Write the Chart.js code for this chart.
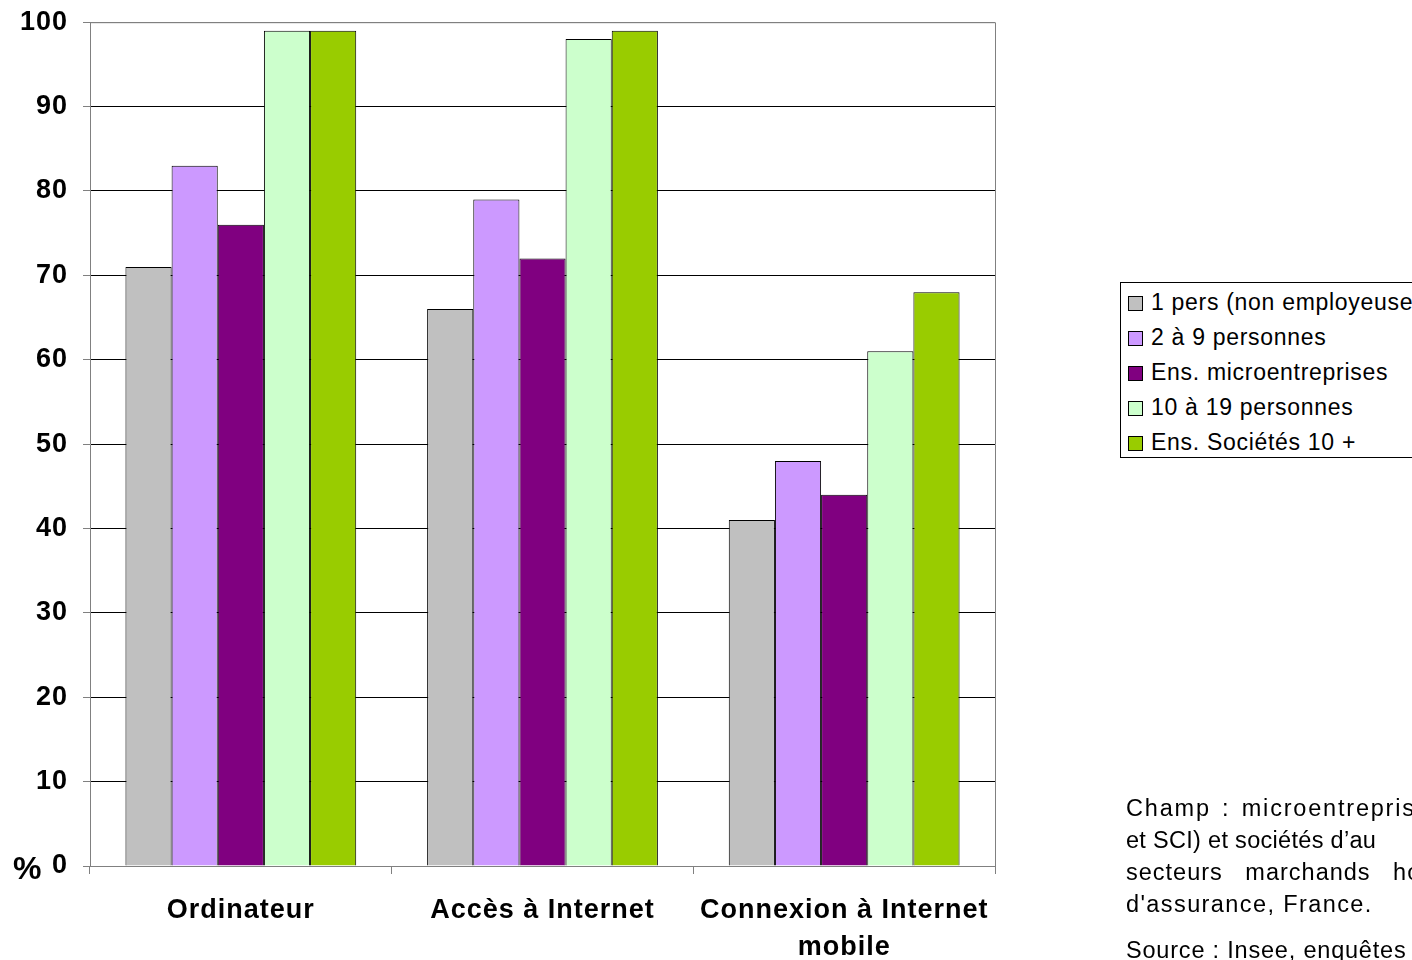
<!DOCTYPE html>
<html><head><meta charset="utf-8">
<script src="https://cdn.jsdelivr.net/npm/chart.js@4"></script>
<style>
html,body{margin:0;padding:0;background:#fff;overflow:hidden;width:1412px;height:960px;}
#wrap{position:absolute;left:0;top:-9px;width:1412px;height:969px;}
.lab{position:absolute;font-family:"Liberation Sans",Arial,sans-serif;color:#000;white-space:nowrap;}
#legend{position:absolute;left:1120px;top:282px;width:320px;height:174px;border:1px solid #000;background:#fff;font-family:"Liberation Sans",Arial,sans-serif;font-size:23px;letter-spacing:0.7px;}
#legend .it{position:absolute;left:7px;height:24px;line-height:24px;white-space:nowrap;}
#legend .sw{display:inline-block;width:13px;height:13px;border:1px solid #000;margin-right:8px;vertical-align:-1px;}
#notes{position:absolute;left:1126px;top:792px;font-family:"Liberation Sans",Arial,sans-serif;font-size:23.5px;line-height:32px;}
#notes div{white-space:nowrap;}
</style></head>
<body>
<div id="wrap"><canvas id="c"></canvas></div>
<div class="lab" style="left:13px;top:850px;font-size:32px;font-weight:bold;">%</div>
<div id="legend"></div>
<div id="notes"></div>
<script>
const categories = ["Ordinateur", "Accès à Internet", ["Connexion à Internet", "mobile"]];
const seriesNames = ["1 pers (non employeuse)", "2 à 9 personnes", "Ens. microentreprises", "10 à 19 personnes", "Ens. Sociétés 10 +"];
const onePers = [71, 66, 41];
const twoToNine = [83, 79, 48];
const microTotal = [76, 72, 44];
const tenToNineteen = [99, 98, 61];
const societesTotal = [99, 99, 68];
const yTicks = [0, 10, 20, 30, 40, 50, 60, 70, 80, 90, 100];
const colors = ["#C0C0C0", "#CC99FF", "#800080", "#CCFFCC", "#99CC00"];
const noteLines = [
  ["Champ : microentreprises (hors micro-entrepreneurs"],
  ["et SCI) et sociétés d’au", "moins 10 personnes des"],
  ["secteurs marchands hors secteurs financiers et"],
  ["d'assurance, France."]
];
const sourceLine = "Source : Insee, enquêtes TIC-TPE 2011 et TIC 2011.";

const seriesValues = [onePers, twoToNine, microTotal, tenToNineteen, societesTotal];

const frame = {
  id: 'frame',
  beforeDraw(chart) { chart.ctx.letterSpacing = '1px'; },
  beforeDatasetsDraw(chart) {
    const a = chart.chartArea, ctx = chart.ctx;
    ctx.save();
    ctx.strokeStyle = '#808080';
    ctx.lineWidth = 1;
    ctx.beginPath();
    ctx.moveTo(a.left + 0.5, a.top + 0.5);
    ctx.lineTo(a.right + 0.5, a.top + 0.5);
    ctx.lineTo(a.right + 0.5, a.bottom);
    ctx.stroke();
    ctx.restore();
  }
};

new Chart(document.getElementById('c'), {
  type: 'bar',
  data: {
    labels: categories,
    datasets: seriesNames.map((n, i) => ({
      label: n,
      data: seriesValues[i],
      backgroundColor: colors[i],
      borderColor: '#000',
      borderWidth: 1,
      categoryPercentage: 0.765,
      barPercentage: 1
    }))
  },
  options: {
    responsive: true,
    maintainAspectRatio: false,
    animation: false,
    layout: { padding: { top: 12, right: 417, left: 0, bottom: 0 } },
    plugins: { legend: { display: false }, tooltip: { enabled: false } },
    scales: {
      x: {
        grid: { offset: true, drawOnChartArea: false, drawTicks: true, tickLength: 8, color: '#808080' },
        border: { color: '#808080', width: 1 },
        ticks: { color: '#000', font: { family: 'Liberation Sans, Arial', size: 27, weight: 'bold', lineHeight: 1.37 }, padding: 18, maxRotation: 0, autoSkip: false },
        afterFit(s) { s.height = 94; }
      },
      y: {
        min: 0, max: 100,
        afterBuildTicks(s) { s.ticks = yTicks.map(v => ({ value: v })); },
        grid: {
          color: ctx => (ctx.tick && ctx.tick.value === 100) ? '#808080' : '#000',
          tickColor: '#808080',
          tickLength: 7
        },
        border: { color: '#808080', width: 1 },
        ticks: { color: '#000', font: { family: 'Liberation Sans, Arial', size: 27, weight: 'bold' }, padding: 15 },
        afterFit(s) { s.width = 90; }
      }
    }
  },
  plugins: [frame]
});

const lg = document.getElementById('legend');
seriesNames.forEach((n, i) => {
  const d = document.createElement('div');
  d.className = 'it';
  d.style.top = (7 + i * 35) + 'px';
  d.innerHTML = '<span class="sw" style="background:' + colors[i] + '"></span>';
  d.appendChild(document.createTextNode(n));
  lg.appendChild(d);
});
const lineStyles = [
  { ls: '1.8px', ws: '3px' },
  { ls: '0.3px', ws: '0px' },
  { ls: '1px', ws: '15px' },
  { ls: '1.4px', ws: '0px' }
];
const nt = document.getElementById('notes');
noteLines.forEach((parts, i) => {
  const d = document.createElement('div');
  d.style.letterSpacing = lineStyles[i].ls;
  d.style.wordSpacing = lineStyles[i].ws;
  parts.forEach((t, j) => {
    const sp = document.createElement('span');
    if (j > 0) sp.style.marginLeft = '52px';
    sp.textContent = t;
    d.appendChild(sp);
  });
  nt.appendChild(d);
});
const s = document.createElement('div');
s.style.marginTop = '14px';
s.style.letterSpacing = '0.8px';
s.textContent = sourceLine;
nt.appendChild(s);
</script>
</body></html>
